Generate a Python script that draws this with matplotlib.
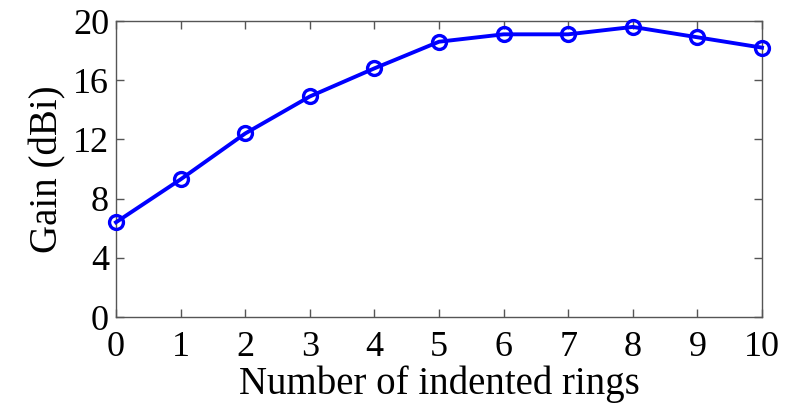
import matplotlib
matplotlib.use("Agg")
import matplotlib.pyplot as plt

rings = [0, 1, 2, 3, 4, 5, 6, 7, 8, 9, 10]
gain_dbi = [6.4, 9.3, 12.4, 14.9, 16.8, 18.6, 19.1, 19.1, 19.6, 18.9, 18.2]
y_ticks = [0, 4, 8, 12, 16, 20]

plt.rcParams['font.family'] = ['Liberation Serif', 'DejaVu Serif']

fig = plt.figure(figsize=(7.91, 4.05), dpi=100)
ax = fig.add_axes([116/791, 1 - 317/405, (762 - 116)/791, (317 - 21)/405])

ax.plot(rings, gain_dbi, color='#0000ff', lw=2.8, marker='o', ms=10,
        mfc='none', mec='#0000ff', mew=2.4, clip_on=False, zorder=3)

ax.set_xlim(0, 10)
ax.set_ylim(0, 20)
ax.set_xticks(rings)
ax.set_yticks(y_ticks)
ax.tick_params(direction='in', length=6, width=1, color='#555555',
               top=True, right=True, labelsize=26)
ax.tick_params(axis='x', pad=10)
ax.tick_params(axis='y', pad=5)
for s in ax.spines.values():
    s.set_color('#555555')
    s.set_linewidth(1)

ax.set_xlabel('Number of indented rings', fontsize=28, labelpad=1)
ax.set_ylabel('Gain (dBi)', fontsize=28, labelpad=5)

fig.savefig('out.png', dpi=100)
